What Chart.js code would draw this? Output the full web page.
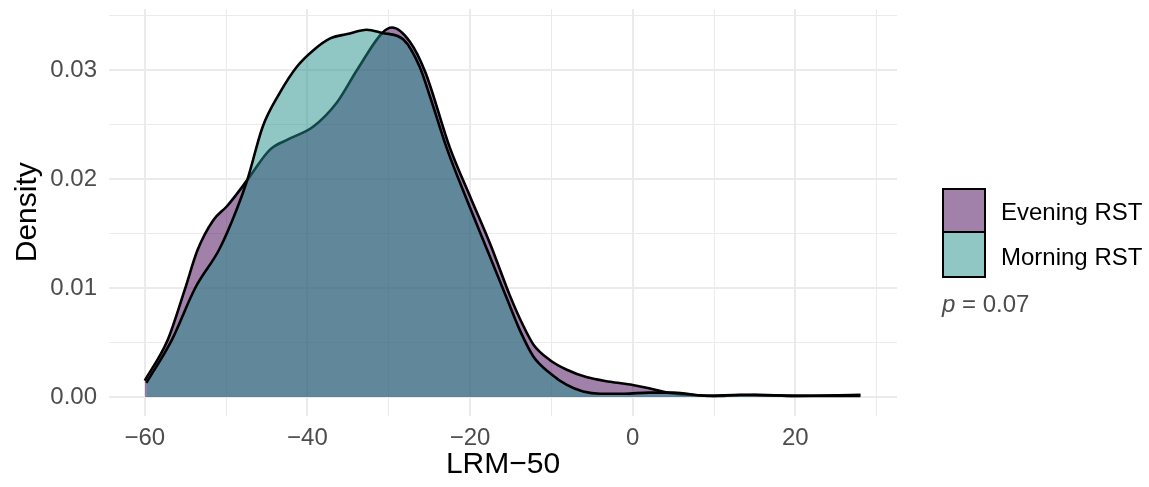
<!DOCTYPE html>
<html lang="en">
<head>
    <meta charset="UTF-8">
    <title>LRM-50 density</title>
    <script src="https://cdn.jsdelivr.net/npm/chart.js"></script>
    <style>
        body {
            margin: 0;
            background: #ffffff;
            font-family: "Liberation Sans", Arial, sans-serif;
        }
        #wrap {
            position: relative;
            width: 1149px;
            height: 487px;
        }
        .key {
            position: absolute;
            left: 942px;
            width: 40px;
            height: 41px;
            border: 2px solid #000;
        }
        .lab {
            position: absolute;
            left: 1001px;
            font-size: 24px;
            color: #000;
            line-height: 24px;
        }
        #pval {
            position: absolute;
            left: 942px;
            top: 292px;
            font-size: 24px;
            line-height: 24px;
            color: #4d4d4d;
        }
    </style>
</head>
<body>
<div id="wrap">
    <canvas id="densChart" width="1149" height="487"></canvas>

    <!-- legend -->
    <div class="key" style="top:188px; background:rgba(68,1,84,0.5);"></div>
    <div class="key" style="top:233px; height:43px; border-top:0; background:rgba(33,144,140,0.5);"></div>
    <div class="lab" style="top:200px;">Evening RST</div>
    <div class="lab" style="top:245px;">Morning RST</div>
    <div id="pval"><i>p</i> = 0.07</div>
</div>

<script>
    // ** Data **
    let seriesNames = ["Evening RST", "Morning RST"];

    let eveningX = [-60, -57.2, -55.1, -53.5, -51.6, -49.9, -48.3, -47.4, -44.6, -42.5, -39.3, -36.4, -33.9, -30.8, -29.6, -27.4, -25.5, -22.5, -20.0, -17.5, -15.1, -13.5, -12.2, -10.2, -8.1, -5.6, -2.8, 0.0, 2.0, 4.2, 7.0, 10.0, 15, 20, 28];
    let eveningY = [0.0015, 0.0052, 0.0098, 0.0135, 0.0162, 0.0175, 0.0190, 0.0199, 0.0227, 0.0236, 0.0248, 0.0270, 0.0300, 0.0334, 0.0339, 0.0326, 0.0298, 0.0229, 0.0184, 0.0140, 0.0093, 0.0066, 0.0048, 0.0034, 0.0025, 0.0018, 0.0014, 0.0011, 0.0008, 0.0004, 0.0002, 0.0001, 0.0002, 0.0001, 0.0002];

    let morningX = [-59.8, -56.7, -53.8, -50.8, -48.7, -47.4, -45.5, -43.4, -41.3, -39.3, -37.2, -35.1, -32.7, -30.8, -28.2, -26.2, -24.9, -22.8, -20.4, -17.9, -15.4, -13.8, -12.2, -10.2, -8.1, -6.1, -4.0, -1.0, 2.0, 5.0, 9.2, 13.2, 21.5, 28];
    let morningY = [0.0013, 0.0052, 0.0100, 0.0136, 0.0172, 0.0199, 0.0248, 0.0279, 0.0303, 0.0318, 0.0329, 0.0333, 0.0337, 0.0334, 0.0328, 0.0303, 0.0275, 0.0227, 0.0181, 0.0135, 0.0089, 0.0060, 0.0037, 0.0022, 0.0011, 0.0005, 0.0003, 0.0003, 0.0004, 0.0004, 0.0001, 0.0002, 0.0001, 0.0001];

    let xTicks = [-60, -40, -20, 0, 20];
    let yTicks = [0.00, 0.01, 0.02, 0.03];

    let fillColors = ["rgba(68,1,84,0.5)", "rgba(33,144,140,0.5)"];

    function toPoints(xs, ys) {
        return xs.map((x, i) => ({ x: x, y: ys[i] }));
    }

    function minus(s) {
        return String(s).replace("-", "\u2212");
    }

    let tickFont = { family: "'Liberation Sans', Arial, sans-serif", size: 24 };
    let titleFont = { family: "'Liberation Sans', Arial, sans-serif", size: 30 };

    new Chart(document.getElementById("densChart"), {
        type: "line",
        data: {
            datasets: [
                {
                    label: seriesNames[0],
                    data: toPoints(eveningX, eveningY),
                    backgroundColor: fillColors[0],
                    borderColor: "#000000",
                    borderWidth: 2.6,
                    fill: "origin",
                    pointRadius: 0,
                    cubicInterpolationMode: "monotone",
                    order: 1
                },
                {
                    label: seriesNames[1],
                    data: toPoints(morningX, morningY),
                    backgroundColor: fillColors[1],
                    borderColor: "#000000",
                    borderWidth: 2.6,
                    fill: "origin",
                    pointRadius: 0,
                    cubicInterpolationMode: "monotone",
                    order: 0
                }
            ]
        },
        options: {
            responsive: false,
            animation: false,
            layout: { padding: { left: 0, top: 9, right: 252, bottom: 0 } },
            plugins: {
                legend: { display: false },
                tooltip: { enabled: false }
            },
            scales: {
                x: {
                    type: "linear",
                    min: -64.4,
                    max: 32.5,
                    border: { display: false },
                    grid: {
                        drawTicks: false,
                        color: "#ebebeb",
                        lineWidth: ctx => (xTicks.includes(ctx.tick.value) ? 2 : 1)
                    },
                    ticks: {
                        stepSize: 10,
                        includeBounds: false,
                        autoSkip: false,
                        maxRotation: 0,
                        padding: 8,
                        color: "#4d4d4d",
                        font: tickFont,
                        callback: v => (xTicks.includes(v) ? minus(v) : "")
                    },
                    title: {
                        display: true,
                        text: "LRM\u221250",
                        color: "#000000",
                        font: titleFont,
                        padding: { top: 0, bottom: 4 }
                    },
                    afterFit: scale => {
                        scale.height = 71.5;
                        scale.paddingLeft = 0;
                        scale.paddingRight = 0;
                    }
                },
                y: {
                    min: -0.0017,
                    max: 0.0356,
                    border: { display: false },
                    grid: {
                        drawTicks: false,
                        color: "#ebebeb",
                        lineWidth: ctx => (Math.round(ctx.tick.value * 1000) % 10 === 0 ? 2 : 1)
                    },
                    ticks: {
                        stepSize: 0.005,
                        includeBounds: false,
                        autoSkip: false,
                        padding: 12,
                        color: "#4d4d4d",
                        font: tickFont,
                        callback: v => (Math.round(v * 1000) % 10 === 0 ? v.toFixed(2) : "")
                    },
                    title: {
                        display: true,
                        text: "Density",
                        color: "#000000",
                        font: titleFont,
                        padding: { top: 10, bottom: 0 }
                    },
                    afterFit: scale => {
                        scale.width = 109;
                        scale.paddingTop = 0;
                        scale.paddingBottom = 0;
                    }
                }
            }
        }
    });
</script>
</body>
</html>
